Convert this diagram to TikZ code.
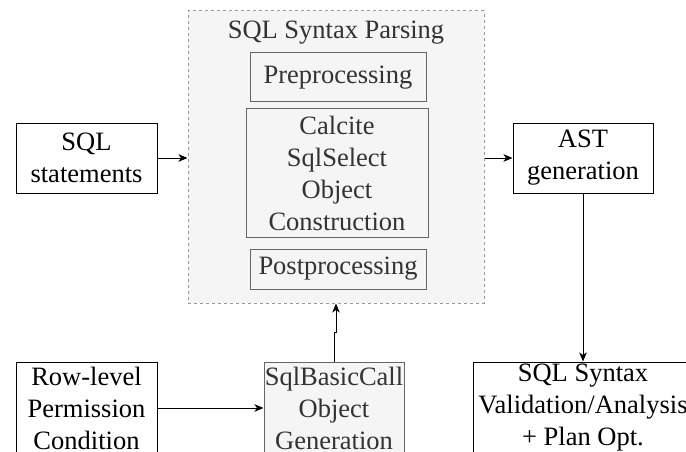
\documentclass[tikz,border=0pt]{standalone}
\usepackage{fontspec}
\setmainfont{Liberation Serif}
\usetikzlibrary{arrows.meta}
\definecolor{boxfill}{HTML}{F5F5F5}
\definecolor{boxline}{HTML}{666666}
\definecolor{boxtext}{HTML}{333333}
\definecolor{dashline}{HTML}{999999}
\newcommand\diagfont{\fontsize{26.5}{32}\selectfont}
\tikzset{
  plainbox/.style={draw=black, fill=white, line width=1pt, inner sep=0pt,
    align=center, font=\diagfont, text=black},
  subbox/.style={draw=boxline, fill=boxfill, line width=1pt, inner sep=0pt,
    align=center, font=\diagfont, text=boxtext},
  groupbox/.style={draw=dashline, fill=boxfill, line width=1pt,
    dash pattern=on 3pt off 3pt},
  arr/.style={-{Stealth[length=9pt,width=7.5pt,inset=2.5pt]}, line width=1pt, draw=black},
}
\begin{document}
\begin{tikzpicture}[x=1pt,y=-1pt]
  \useasboundingbox (0,0) rectangle (686,452);
  \clip (0,0) rectangle (686,452);

  % parsing stage container
  \node[groupbox, minimum width=296pt, minimum height=292pt] (parse) at (336,157) {};
  \node[font=\diagfont, text=boxtext, inner sep=0pt] (parsetitle) at (336,33) {SQL Syntax Parsing};
  \node[subbox, minimum width=176pt, minimum height=49pt] (pre) at (338,77.5) {Preprocessing};
  \node[subbox, minimum width=182pt, minimum height=128pt] (calcite) at (337,173)
    {Calcite\\SqlSelect\\Object\\Construction};
  \node[subbox, minimum width=176pt, minimum height=40pt] (post) at (338,269) {Postprocessing};

  % top row
  \node[plainbox, minimum width=141pt, minimum height=70pt] (sql) at (86.5,158) {SQL\\statements};
  \node[plainbox, minimum width=140pt, minimum height=70pt] (ast) at (583,158) {AST\\generation};

  % bottom row
  \node[plainbox, minimum width=141pt, minimum height=92pt] (row) at (86.5,408)
    {Row-level\\Permission\\Condition};
  \node[subbox, minimum width=140pt, minimum height=92pt] (basic) at (334,408)
    {SqlBasicCall\\Object\\Generation};
  \node[plainbox, minimum width=220pt, minimum height=92pt] (valid) at (583,408)
    {SQL Syntax\\Validation/Analysis\\+ Plan Opt.};

  % connectors
  \draw[arr] (sql.east) -- (sql.east -| parse.west);
  \draw[arr] (parse.east |- ast.west) -- (ast.west);
  \draw[arr] (ast.south) -- (valid.north);
  \draw[arr] (row.east |- basic.west) -- (basic.west);
  \coordinate (jogA) at (334,332);
  \coordinate (jogB) at (336,332);
  \draw[arr] (basic.north) -- (jogA) -- (jogB) -- (jogB |- parse.south);
\end{tikzpicture}
\end{document}
